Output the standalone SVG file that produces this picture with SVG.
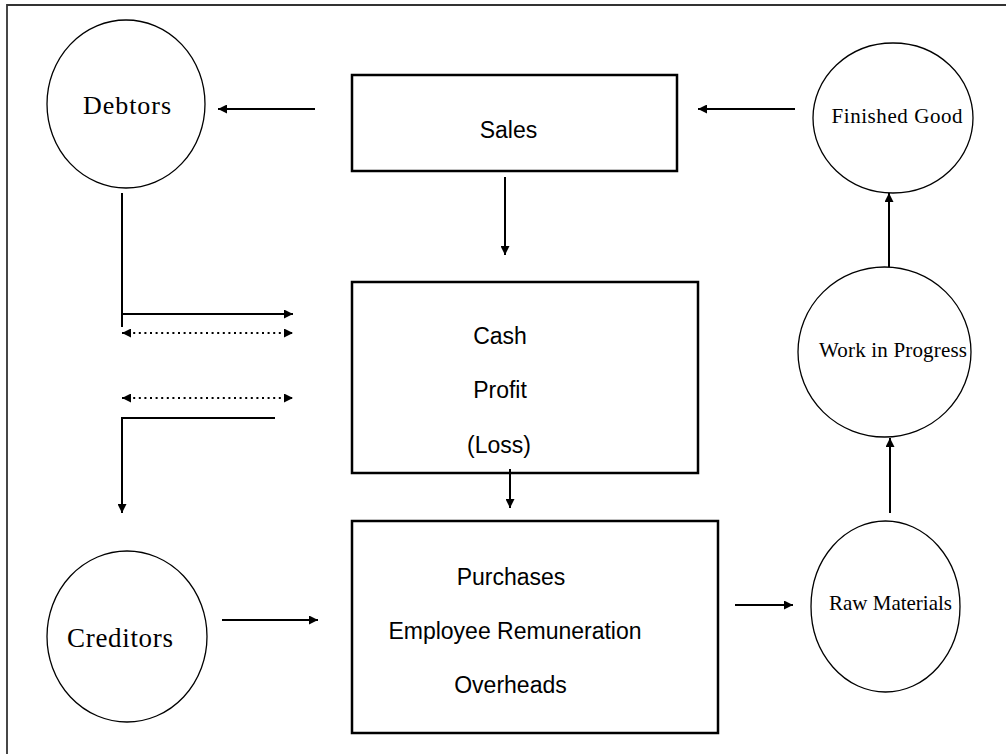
<svg xmlns="http://www.w3.org/2000/svg" width="1006" height="754" viewBox="0 0 1006 754">
<style>
.box{fill:#fff;stroke:#000;stroke-width:2.5}
.circ{fill:#fff;stroke:#000;stroke-width:1.3}
.sans{font-family:"Liberation Sans",Arial,sans-serif;font-size:23px;fill:#000;text-anchor:middle}
.serif{font-family:"Liberation Serif","Times New Roman",serif;fill:#000;text-anchor:middle}
.ln{fill:none;stroke:#000;stroke-width:2}
.dot{fill:none;stroke:#000;stroke-width:2;stroke-dasharray:2 3.6}
</style>
<defs>
<marker id="ah" viewBox="0 0 10 10" refX="10" refY="5" markerWidth="5" markerHeight="4.5" markerUnits="strokeWidth" orient="auto-start-reverse">
<path d="M0,0 L10,5 L0,10 Z" fill="#000"/>
</marker>
</defs>
<rect width="1006" height="754" fill="#fff"/>
<path d="M7,754 V5 H1006" fill="none" stroke="#333" stroke-width="1.8"/>

<g id="debtors">
<ellipse class="circ" cx="126" cy="104" rx="79" ry="84"/>
<text class="serif" x="127" y="114" font-size="26" textLength="88" lengthAdjust="spacing">Debtors</text>
</g>
<g id="sales">
<rect class="box" x="352" y="75" width="325" height="96"/>
<text class="sans" x="508.5" y="138">Sales</text>
</g>
<g id="finished-good">
<ellipse class="circ" cx="893" cy="118" rx="80" ry="75"/>
<text class="serif" x="897" y="123" font-size="21" textLength="131" lengthAdjust="spacing">Finished Good</text>
</g>
<g id="cash">
<rect class="box" x="352" y="282" width="346" height="191"/>
<text class="sans" x="500" y="344">Cash</text>
<text class="sans" x="500" y="398">Profit</text>
<text class="sans" x="499" y="453">(Loss)</text>
</g>
<g id="wip">
<ellipse class="circ" cx="884.5" cy="352" rx="86.5" ry="85"/>
<text class="serif" x="893" y="357" font-size="21" textLength="148" lengthAdjust="spacing">Work in Progress</text>
</g>
<g id="expenses">
<rect class="box" x="352" y="521" width="366" height="212"/>
<text class="sans" x="511" y="585">Purchases</text>
<text class="sans" x="515" y="639">Employee Remuneration</text>
<text class="sans" x="510.5" y="693">Overheads</text>
</g>
<g id="raw-materials">
<ellipse class="circ" cx="885.5" cy="606.5" rx="74.5" ry="85.5"/>
<text class="serif" x="890.5" y="610" font-size="21" textLength="123" lengthAdjust="spacing">Raw Materials</text>
</g>
<g id="creditors">
<ellipse class="circ" cx="127" cy="636.5" rx="80" ry="85.5"/>
<text class="serif" x="120" y="647" font-size="27" textLength="106" lengthAdjust="spacing">Creditors</text>
</g>

<g id="connectors">
<line class="ln" x1="315" y1="109" x2="218" y2="109" marker-end="url(#ah)"/>
<line class="ln" x1="795" y1="109" x2="698" y2="109" marker-end="url(#ah)"/>
<line class="ln" x1="505" y1="177" x2="505" y2="255" marker-end="url(#ah)"/>
<line class="ln" x1="510" y1="469" x2="510" y2="508" marker-end="url(#ah)"/>
<line class="ln" x1="889" y1="267" x2="889" y2="193" marker-end="url(#ah)"/>
<line class="ln" x1="890" y1="513" x2="890" y2="438" marker-end="url(#ah)"/>
<line class="ln" x1="735" y1="605" x2="793" y2="605" marker-end="url(#ah)"/>
<line class="ln" x1="222" y1="620" x2="318" y2="620" marker-end="url(#ah)"/>
<path class="ln" d="M122,193 V327 M122,314 H293" marker-end="url(#ah)"/>
<line class="dot" x1="122" y1="333" x2="293" y2="333" marker-start="url(#ah)" marker-end="url(#ah)"/>
<line class="dot" x1="122" y1="398" x2="293" y2="398" marker-start="url(#ah)" marker-end="url(#ah)"/>
<path class="ln" d="M275,418 H122 V513" marker-end="url(#ah)"/>
</g>
</svg>
